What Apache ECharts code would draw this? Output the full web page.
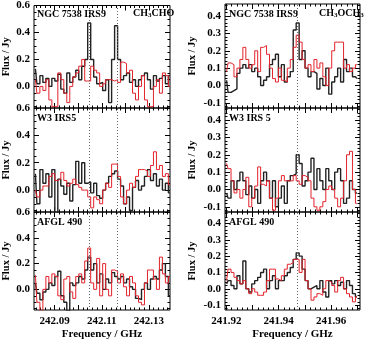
<!DOCTYPE html>
<html>
<head>
<meta charset="UTF-8">
<title>CH3CHO / CH3OCH3 spectra</title>
<script src="https://cdn.jsdelivr.net/npm/echarts@6/dist/echarts.min.js"></script>
<style>
html, body { margin: 0; padding: 0; background: #fff; }
#chart { width: 366px; height: 341px; }
</style>
</head>
<body>
<div id="chart"></div>
<script>
// channel grids (GHz): first channel centre and channel width
var choStart = 242.0818, choStep = 0.00127;
var dmeStart = 241.9201, dmeStep = 0.00113;

// tick labels
var choFreqTicks = [242.09, 242.11, 242.13];
var dmeFreqTicks = [241.92, 241.94, 241.96];
var choFluxTicks = [0.0, 0.2, 0.4, 0.6];
var dmeFluxTicks = [-0.1, 0.0, 0.1, 0.2, 0.3, 0.4];

// rest frequencies (dotted lines)
var choLines = [242.1045, 242.1165];
var dmeLines = [241.947];

// CH3CHO, 242.1 GHz (left column)
var choNgcBlack = [0.13,0.02,0.08,0.03,0.06,0.0,0.06,0.04,0.09,-0.02, -0.05,0.1,0.03,0.07,0.12,0.05,0.15,0.2,0.47,0.2, 0.07,0.02,0.03,-0.03,0.05,-0.12,0.2,0.45,0.2,0.05, 0.08,0.1,0.03,0.05,0.0,0.05,0.08,0.1,0.05,-0.02, 0.08,0.04,0.06,0.08,0.02,0.08];
var choNgcRed = [0.05,-0.05,0.0,-0.03,0.05,-0.1,-0.15,-0.15,0.1,0.05, -0.05,-0.12,0.0,0.07,0.1,0.15,0.2,0.04,0.04,0.15, 0.12,0.1,0.0,0.02,0.05,0.05,0.04,0.05,0.03,0.18, 0.17,0.1,0.12,-0.05,-0.1,0.0,0.08,-0.1,-0.15,-0.15, 0.0,0.05,-0.05,0.1,0.08,0.0];
var choW3Black = [0.12,-0.1,0.15,0.05,0.12,-0.05,0.15,-0.18,0.08,0.03, -0.03,0.05,-0.08,0.04,0.21,0.05,0.2,0.05,0.06,-0.02, 0.05,-0.04,-0.06,0.0,0.05,0.1,0.12,0.14,0.08,0.03, -0.1,-0.05,-0.15,0.02,0.07,0.0,0.03,0.1,0.15,0.07, 0.12,0.03,0.08,0.0,0.05,-0.02];
var choW3Red = [0.0,-0.05,0.0,0.03,0.03,0.1,0.12,0.07,0.08,0.13, 0.07,0.03,0.05,0.08,0.04,0.02,0.0,0.0,-0.05,-0.13, -0.05,-0.07,-0.1,0.0,0.05,0.02,0.19,0.19,0.1,-0.05, -0.1,0.0,0.05,0.02,0.1,0.15,0.15,0.14,0.1,0.18, 0.28,0.15,0.18,0.1,0.12,0.04];
var choAfglBlack = [0.05,-0.03,-0.08,-0.02,0.0,0.05,0.03,0.1,0.14,-0.05, -0.1,-0.17,0.05,0.03,0.05,0.1,0.08,0.15,0.25,0.15, 0.2,0.05,0.12,0.0,0.08,0.05,0.13,0.1,0.08,0.1, 0.05,0.08,0.02,0.0,-0.07,-0.08,0.0,0.05,0.0,0.08, 0.1,0.08,0.15,0.2,0.1,-0.05];
var choAfglRed = [0.11,-0.1,-0.17,0.0,0.1,0.05,0.12,0.1,-0.05,-0.08, 0.08,0.1,-0.02,-0.07,0.1,0.12,0.05,0.22,0.32,0.05, 0.0,0.24,-0.05,0.2,0.0,-0.05,0.15,0.14,0.05,0.12, 0.02,-0.05,0.1,0.05,-0.05,-0.1,-0.12,0.05,0.15,0.15, 0.08,0.0,0.25,0.12,0.05,0.1];

// CH3OCH3, 241.94 GHz (right column)
var dmeNgcBlack = [0.03,-0.04,-0.03,-0.02,0.07,0.1,0.12,0.1,0.12,0.08, 0.1,0.05,0.0,0.03,0.05,0.12,0.15,0.18,0.05,0.12, 0.02,0.05,0.08,0.32,0.36,0.15,0.2,0.1,0.05,0.08, 0.07,-0.02,0.04,0.0,0.1,-0.05,0.02,0.05,0.1,0.02, 0.15,0.08,0.1,0.05,0.04];
var dmeNgcRed = [0.08,0.13,0.12,0.05,0.1,0.15,0.22,0.15,0.1,0.12, 0.2,0.08,0.22,0.23,0.18,0.1,0.04,0.02,0.1,0.03, 0.02,0.1,0.15,0.22,0.29,0.25,0.15,0.1,0.12,0.08, 0.15,0.1,0.13,0.05,0.0,0.1,0.2,0.25,0.25,0.25, 0.1,0.12,0.08,0.1,0.12];
var dmeW3Black = [-0.02,-0.05,0.05,0.0,0.05,0.1,0.05,-0.03,0.02,-0.05, 0.0,-0.08,0.05,0.1,0.05,-0.05,0.05,-0.1,-0.05,0.02, -0.08,0.05,0.08,0.09,0.2,0.15,0.02,0.05,0.1,0.18, 0.0,0.12,0.05,0.0,0.12,0.05,0.0,0.1,0.12,0.05, -0.08,-0.05,0.05,0.0,-0.02];
var dmeW3Red = [0.15,0.12,0.05,-0.02,0.0,-0.05,0.0,0.07,-0.1,-0.05, 0.02,0.13,0.03,0.02,0.05,-0.05,-0.12,-0.05,0.05,0.08, 0.05,0.05,0.05,0.08,0.05,0.03,0.08,0.07,0.05,-0.05, -0.1,-0.12,-0.1,-0.07,0.0,0.02,0.0,-0.05,-0.1,-0.05, 0.05,0.2,0.22,0.0,-0.08];
var dmeAfglBlack = [0.03,0.05,0.02,0.0,0.08,0.03,0.17,0.0,-0.02,0.03, 0.05,0.07,0.1,0.12,0.0,0.05,0.08,0.0,0.05,0.05, 0.08,0.1,0.13,0.18,0.22,0.2,0.12,0.05,0.0,0.01, 0.02,0.0,0.05,-0.02,-0.05,0.05,0.03,0.05,0.02,0.04, 0.0,0.05,0.02,-0.03,-0.05];
var dmeAfglRed = [0.05,0.12,0.1,0.07,0.05,0.03,0.05,0.0,-0.03,0.0, -0.02,-0.04,-0.04,-0.02,0.05,0.12,0.12,0.06,0.05,0.08, 0.12,0.15,0.16,0.18,0.18,0.1,0.18,0.05,0.0,-0.07, -0.05,-0.03,-0.04,0.0,0.05,0.04,0.02,-0.02,0.05,0.07, 0.0,-0.03,-0.05,-0.08,-0.05];

var panels = [
    {col: 0, row: 0, black: choNgcBlack, red: choNgcRed, src: 'NGC 7538 IRS9', mol: '{a|CH}{s|3}{a|CHO}', molW: 35},
    {col: 0, row: 1, black: choW3Black, red: choW3Red, src: 'W3 IRS5'},
    {col: 0, row: 2, black: choAfglBlack, red: choAfglRed, src: 'AFGL 490'},
    {col: 1, row: 0, black: dmeNgcBlack, red: dmeNgcRed, src: 'NGC 7538 IRS9', mol: '{a|CH}{s|3}{a|OCH}{s|3}', molW: 39},
    {col: 1, row: 1, black: dmeW3Black, red: dmeW3Red, src: 'W3 IRS 5'},
    {col: 1, row: 2, black: dmeAfglBlack, red: dmeAfglRed, src: 'AFGL 490'}
];

var FONT = 'Liberation Serif';
var cols = [
    {left: 33, width: 137, xMin: 242.0812, xMax: 242.139, yMin: -0.16, yMax: 0.6,
     start: choStart, step: choStep, xTicks: choFreqTicks, yTicks: choFluxTicks, lines: choLines,
     xMajor: 0.01, xMinor: 0.002, yMajor: 0.2, yMinor: 0.05},
    {left: 225, width: 135, xMin: 241.9195, xMax: 241.971, yMin: -0.13, yMax: 0.47,
     start: dmeStart, step: dmeStep, xTicks: dmeFreqTicks, yTicks: dmeFluxTicks, lines: dmeLines,
     xMajor: 0.01, xMinor: 0.002, yMajor: 0.1, yMinor: 0.02}
];

function tickList(min, max, step) {
    var out = [];
    for (var v = Math.ceil(min / step - 1e-6) * step; v <= max + 1e-9; v += step) {
        out.push(Math.round(v * 10000) / 10000);
    }
    return out;
}

// tick-only axis (the box itself is the grid border)
function makeAxis(g, pos, min, max, ticks, len) {
    return {
        type: 'value', gridIndex: g, position: pos, min: min, max: max,
        axisLine: {show: false, onZero: false}, splitLine: {show: false},
        axisTick: {show: true, inside: true, length: len, customValues: ticks,
                   lineStyle: {color: '#000', width: 1}},
        axisLabel: {show: false}
    };
}

var grids = [], xAxes = [], yAxes = [], series = [], graphics = [];

panels.forEach(function (p, g) {
    var c = cols[p.col];
    var top = 4 + 104 * p.row;
    grids.push({left: c.left, width: c.width, top: top, height: 104,
                show: true, borderColor: '#000', borderWidth: 1});

    var xMaj = tickList(c.xMin, c.xMax, c.xMajor), xMin = tickList(c.xMin, c.xMax, c.xMinor);
    var yMaj = tickList(c.yMin, c.yMax, c.yMajor), yMin = tickList(c.yMin, c.yMax, c.yMinor);

    var xMain = makeAxis(g, 'bottom', c.xMin, c.xMax, xMaj, 5);
    if (p.row === 2) {
        xMain.axisLabel = {show: true, customValues: c.xTicks, margin: 6,
            fontFamily: FONT, fontWeight: 'bold', fontSize: 11, color: '#000',
            formatter: function (v) { return v.toFixed(2); }};
        xMain.name = 'Frequency / GHz';
        xMain.nameLocation = 'middle';
        xMain.nameGap = 19;
        xMain.nameTextStyle = {fontFamily: FONT, fontWeight: 'bold', fontSize: 11, color: '#000'};
    }
    xAxes.push(xMain,
        makeAxis(g, 'bottom', c.xMin, c.xMax, xMin, 2.5),
        makeAxis(g, 'top', c.xMin, c.xMax, xMaj, 5),
        makeAxis(g, 'top', c.xMin, c.xMax, xMin, 2.5));

    var yMain = makeAxis(g, 'left', c.yMin, c.yMax, yMaj, 5);
    yMain.axisLabel = {show: true, customValues: c.yTicks, margin: 4,
        fontFamily: FONT, fontWeight: 'bold', fontSize: 11, color: '#000',
        formatter: function (v) { return v.toFixed(1); }};
    yMain.name = 'Flux / Jy';
    yMain.nameLocation = 'middle';
    yMain.nameGap = p.col === 0 ? 22 : 27;
    yMain.nameTextStyle = {fontFamily: FONT, fontWeight: 'bold', fontSize: 10.5, color: '#000'};
    yAxes.push(yMain,
        makeAxis(g, 'left', c.yMin, c.yMax, yMin, 2.5),
        makeAxis(g, 'right', c.yMin, c.yMax, yMaj, 5),
        makeAxis(g, 'right', c.yMin, c.yMax, yMin, 2.5));

    function toPairs(vals) {
        return vals.map(function (v, i) { return [c.start + i * c.step, v]; });
    }

    series.push({
        type: 'line', xAxisIndex: 4 * g, yAxisIndex: 4 * g, step: 'middle',
        symbol: 'none', data: toPairs(p.black), z: 3,
        lineStyle: {color: '#222', width: 1.4},
        markLine: {silent: true, symbol: 'none', precision: 5, label: {show: false},
            lineStyle: {type: [1, 2], color: '#666', width: 1},
            data: c.lines.map(function (f) {
                return [{coord: [f, c.yMin]}, {coord: [f, c.yMax]}];
            })}
    });
    series.push({
        type: 'line', xAxisIndex: 4 * g, yAxisIndex: 4 * g, step: 'middle',
        symbol: 'none', data: toPairs(p.red), z: 4,
        lineStyle: {color: '#e3232b', width: 1}
    });

    graphics.push({type: 'text', left: c.left + 4, top: top + 5,
        style: {text: p.src, font: 'bold 10px "Liberation Serif"', fill: '#000'}});
    if (p.mol) {
        graphics.push({type: 'text', left: c.left + c.width - p.molW - 2, top: top + 4,
            style: {text: p.mol, fill: '#000',
                rich: {a: {fontFamily: FONT, fontWeight: 'bold', fontSize: 10, lineHeight: 12},
                       s: {fontFamily: FONT, fontWeight: 'bold', fontSize: 7, lineHeight: 8, verticalAlign: 'bottom'}}}});
    }
});

var chart = echarts.init(document.getElementById('chart'));
chart.setOption({
    animation: false,
    grid: grids,
    xAxis: xAxes,
    yAxis: yAxes,
    series: series,
    graphic: graphics
});
</script>
</body>
</html>
